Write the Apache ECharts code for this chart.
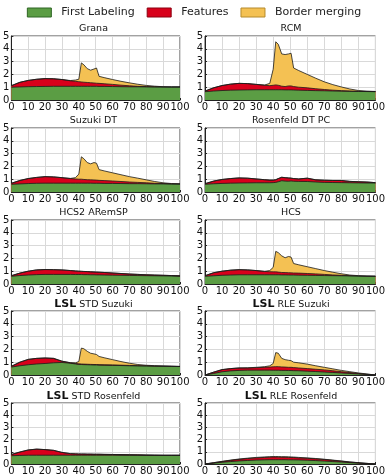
<!DOCTYPE html>
<html>
<head>
<meta charset="utf-8">
<script src="https://cdn.jsdelivr.net/npm/echarts@6/dist/echarts.min.js"></script>
<style>
html, body { margin: 0; padding: 0; background: #fff; }
#chart { width: 388px; height: 476px; }
</style>
</head>
<body>
<div id="chart"></div>
<script>
// x positions (percent) shared by every panel
const pct = [0, 5, 10, 15, 20, 25, 30, 35, 38, 40, 41.5, 43, 45, 47, 49, 50.5, 52, 55, 60, 65, 70, 75, 80, 85, 90, 95, 100];

// top edge of each layer (cumulative): labeling, + features, + border merging
const granaLabel = [1.0, 1.02, 1.04, 1.05, 1.06, 1.07, 1.07, 1.07, 1.07, 1.07, 1.07, 1.07, 1.07, 1.07, 1.07, 1.07, 1.06, 1.06, 1.05, 1.04, 1.03, 1.03, 1.02, 1.02, 1.02, 1.02, 1.02];
const granaFeat = [1.12, 1.38, 1.53, 1.62, 1.67, 1.66, 1.6, 1.5, 1.46, 1.43, 1.41, 1.39, 1.37, 1.35, 1.33, 1.31, 1.3, 1.27, 1.22, 1.16, 1.11, 1.07, 1.05, 1.03, 1.02, 1.02, 1.02];
const granaMerge = [1.12, 1.38, 1.53, 1.62, 1.67, 1.66, 1.6, 1.52, 1.56, 1.62, 2.9, 2.75, 2.45, 2.33, 2.42, 2.5, 1.85, 1.75, 1.6, 1.46, 1.34, 1.23, 1.14, 1.08, 1.04, 1.02, 1.02];

const rcmLabel = [0.65, 0.7, 0.74, 0.77, 0.78, 0.79, 0.8, 0.8, 0.8, 0.8, 0.8, 0.8, 0.8, 0.79, 0.79, 0.79, 0.78, 0.77, 0.75, 0.73, 0.72, 0.7, 0.69, 0.68, 0.67, 0.66, 0.65];
const rcmFeat = [0.7, 0.95, 1.13, 1.24, 1.3, 1.28, 1.22, 1.15, 1.12, 1.15, 1.18, 1.15, 1.08, 1.05, 1.1, 1.1, 1.05, 1.0, 0.95, 0.88, 0.82, 0.77, 0.73, 0.7, 0.68, 0.67, 0.66];
const rcmMerge = [0.7, 0.95, 1.13, 1.24, 1.3, 1.28, 1.22, 1.17, 1.3, 2.4, 4.55, 4.35, 3.6, 3.55, 3.6, 3.65, 2.5, 2.3, 2.0, 1.7, 1.42, 1.2, 1.02, 0.86, 0.74, 0.69, 0.67];

const suzukiLabel = [0.6, 0.63, 0.66, 0.68, 0.69, 0.69, 0.69, 0.69, 0.69, 0.69, 0.69, 0.69, 0.69, 0.69, 0.68, 0.68, 0.68, 0.67, 0.67, 0.66, 0.65, 0.65, 0.64, 0.63, 0.63, 0.62, 0.62];
const suzukiFeat = [0.68, 0.9, 1.05, 1.14, 1.2, 1.18, 1.12, 1.05, 1.02, 1.0, 1.0, 0.98, 0.96, 0.95, 0.94, 0.93, 0.91, 0.89, 0.86, 0.82, 0.78, 0.75, 0.72, 0.68, 0.66, 0.64, 0.63];
const suzukiMerge = [0.68, 0.9, 1.05, 1.14, 1.2, 1.18, 1.12, 1.06, 1.12, 1.4, 2.75, 2.6, 2.3, 2.2, 2.3, 2.25, 1.75, 1.65, 1.5, 1.35, 1.2, 1.08, 0.95, 0.82, 0.72, 0.66, 0.64];

const rosenPcLabel = [0.6, 0.64, 0.67, 0.69, 0.7, 0.71, 0.72, 0.72, 0.72, 0.73, 0.75, 0.8, 0.88, 0.85, 0.84, 0.86, 0.84, 0.83, 0.82, 0.78, 0.75, 0.74, 0.73, 0.72, 0.71, 0.7, 0.7];
const rosenPcFeat = [0.65, 0.85, 0.98, 1.05, 1.1, 1.08, 1.02, 0.96, 0.93, 0.93, 0.96, 1.05, 1.15, 1.12, 1.1, 1.08, 1.05, 1.02, 1.08, 0.95, 0.92, 0.9, 0.9, 0.83, 0.8, 0.78, 0.73];
const rosenPcMerge = [0.65, 0.85, 0.98, 1.05, 1.1, 1.08, 1.02, 0.96, 0.93, 0.93, 0.96, 1.05, 1.15, 1.12, 1.1, 1.08, 1.05, 1.02, 1.08, 0.95, 0.92, 0.9, 0.9, 0.83, 0.8, 0.78, 0.73];

const hcs2Label = [0.6, 0.66, 0.7, 0.73, 0.75, 0.75, 0.75, 0.75, 0.74, 0.74, 0.74, 0.73, 0.73, 0.72, 0.72, 0.71, 0.71, 0.7, 0.69, 0.68, 0.67, 0.66, 0.65, 0.64, 0.63, 0.62, 0.6];
const hcs2Feat = [0.65, 0.85, 1.0, 1.1, 1.13, 1.12, 1.1, 1.05, 1.02, 1.0, 0.99, 0.98, 0.97, 0.95, 0.94, 0.93, 0.92, 0.9, 0.86, 0.82, 0.78, 0.75, 0.72, 0.7, 0.68, 0.66, 0.64];
const hcs2Merge = [0.65, 0.85, 1.0, 1.1, 1.13, 1.12, 1.1, 1.05, 1.02, 1.0, 0.99, 0.98, 0.97, 0.95, 0.94, 0.93, 0.92, 0.9, 0.86, 0.82, 0.78, 0.75, 0.72, 0.7, 0.68, 0.66, 0.64];

const hcsLabel = [0.6, 0.64, 0.68, 0.7, 0.72, 0.72, 0.72, 0.72, 0.72, 0.72, 0.72, 0.72, 0.71, 0.71, 0.7, 0.7, 0.7, 0.69, 0.68, 0.67, 0.66, 0.65, 0.64, 0.63, 0.62, 0.61, 0.6];
const hcsFeat = [0.65, 0.88, 1.0, 1.08, 1.12, 1.1, 1.05, 0.98, 0.96, 0.95, 0.95, 0.93, 0.9, 0.89, 0.88, 0.87, 0.86, 0.85, 0.82, 0.79, 0.75, 0.71, 0.68, 0.65, 0.63, 0.62, 0.61];
const hcsMerge = [0.65, 0.88, 1.0, 1.08, 1.12, 1.1, 1.05, 0.99, 1.05, 1.3, 2.55, 2.45, 2.2, 2.05, 2.15, 2.1, 1.6, 1.5, 1.35, 1.2, 1.05, 0.92, 0.8, 0.7, 0.65, 0.62, 0.61];

const stdSuzukiLabel = [0.62, 0.72, 0.8, 0.86, 0.9, 0.95, 0.98, 0.92, 0.86, 0.83, 0.82, 0.81, 0.8, 0.79, 0.78, 0.78, 0.77, 0.76, 0.75, 0.74, 0.72, 0.71, 0.7, 0.69, 0.68, 0.67, 0.66];
const stdSuzukiFeat = [0.68, 1.0, 1.22, 1.3, 1.33, 1.3, 1.08, 0.95, 0.9, 0.87, 0.86, 0.85, 0.84, 0.83, 0.82, 0.82, 0.81, 0.8, 0.79, 0.77, 0.75, 0.73, 0.72, 0.7, 0.69, 0.68, 0.67];
const stdSuzukiMerge = [0.68, 1.0, 1.22, 1.3, 1.33, 1.3, 1.08, 0.96, 0.95, 1.05, 2.1, 2.05, 1.85, 1.7, 1.65, 1.6, 1.45, 1.35, 1.2, 1.05, 0.92, 0.82, 0.76, 0.73, 0.71, 0.69, 0.67];

const rleSuzukiLabel = [0, 0.12, 0.25, 0.32, 0.36, 0.38, 0.38, 0.38, 0.38, 0.37, 0.37, 0.37, 0.36, 0.36, 0.35, 0.35, 0.34, 0.33, 0.3, 0.27, 0.23, 0.2, 0.16, 0.12, 0.08, 0.04, 0];
const rleSuzukiFeat = [0, 0.22, 0.42, 0.5, 0.55, 0.55, 0.57, 0.6, 0.62, 0.64, 0.65, 0.65, 0.63, 0.62, 0.6, 0.6, 0.58, 0.55, 0.5, 0.45, 0.4, 0.33, 0.26, 0.19, 0.12, 0.06, 0];
const rleSuzukiMerge = [0, 0.22, 0.42, 0.5, 0.55, 0.56, 0.6, 0.65, 0.72, 0.9, 1.75, 1.7, 1.3, 1.2, 1.15, 1.12, 1.0, 0.95, 0.85, 0.72, 0.6, 0.48, 0.36, 0.26, 0.16, 0.08, 0];

const stdRosenLabel = [0.68, 0.7, 0.72, 0.72, 0.72, 0.72, 0.72, 0.72, 0.72, 0.72, 0.72, 0.72, 0.72, 0.72, 0.72, 0.72, 0.72, 0.72, 0.72, 0.71, 0.71, 0.71, 0.7, 0.7, 0.7, 0.7, 0.7];
const stdRosenFeat = [0.78, 0.98, 1.15, 1.22, 1.18, 1.12, 0.95, 0.85, 0.83, 0.82, 0.82, 0.82, 0.81, 0.81, 0.8, 0.8, 0.8, 0.79, 0.78, 0.77, 0.76, 0.75, 0.74, 0.73, 0.72, 0.72, 0.72];
const stdRosenMerge = [0.78, 0.98, 1.15, 1.22, 1.18, 1.12, 0.95, 0.85, 0.83, 0.82, 0.82, 0.82, 0.81, 0.81, 0.8, 0.8, 0.8, 0.79, 0.78, 0.77, 0.76, 0.75, 0.74, 0.73, 0.72, 0.72, 0.72];

const rleRosenLabel = [0, 0.07, 0.14, 0.2, 0.25, 0.29, 0.32, 0.34, 0.35, 0.35, 0.35, 0.35, 0.35, 0.35, 0.34, 0.34, 0.34, 0.33, 0.31, 0.28, 0.24, 0.2, 0.16, 0.11, 0.07, 0.03, 0];
const rleRosenFeat = [0, 0.1, 0.2, 0.3, 0.38, 0.45, 0.5, 0.54, 0.56, 0.57, 0.57, 0.56, 0.55, 0.55, 0.54, 0.53, 0.53, 0.5, 0.47, 0.42, 0.37, 0.3, 0.23, 0.16, 0.1, 0.05, 0];
const rleRosenMerge = [0, 0.11, 0.22, 0.32, 0.41, 0.48, 0.54, 0.58, 0.6, 0.61, 0.61, 0.61, 0.6, 0.6, 0.59, 0.58, 0.57, 0.54, 0.5, 0.45, 0.39, 0.32, 0.25, 0.17, 0.11, 0.05, 0];

const titles = [
    "Grana", "RCM",
    "Suzuki DT", "Rosenfeld DT PC",
    "HCS2 ARemSP", "HCS",
    "{big|LSL} STD Suzuki", "{big|LSL} RLE Suzuki",
    "{big|LSL} STD Rosenfeld", "{big|LSL} RLE Rosenfeld",
];
const labelData = [granaLabel, rcmLabel, suzukiLabel, rosenPcLabel, hcs2Label, hcsLabel, stdSuzukiLabel, rleSuzukiLabel, stdRosenLabel, rleRosenLabel];
const featData = [granaFeat, rcmFeat, suzukiFeat, rosenPcFeat, hcs2Feat, hcsFeat, stdSuzukiFeat, rleSuzukiFeat, stdRosenFeat, rleRosenFeat];
const mergeData = [granaMerge, rcmMerge, suzukiMerge, rosenPcMerge, hcs2Merge, hcsMerge, stdSuzukiMerge, rleSuzukiMerge, stdRosenMerge, rleRosenMerge];

const names = ["First Labeling", "Features", "Border merging"];
const fills = ["#5b9d44", "#d8001b", "#f4c153"];
const borders = ["#2f6624", "#8a0010", "#b58a2c"];

// layout of the 2 x 5 panels
const colLeft = [7, 205];
const colWidth = [173, 172];
const rowTop = [36, 128, 220, 311, 403];
const plotH = 64;
const font = "DejaVu Sans";

const grid = [], xAxis = [], yAxis = [], series = [], title = [];

titles.forEach((t, i) => {
    const col = i % 2;
    const row = Math.floor(i / 2);
    grid.push({
        left: colLeft[col], top: rowTop[row], width: colWidth[col], height: plotH,
        show: true, borderColor: "#444", borderWidth: 1, backgroundColor: "transparent",
    });
    title.push({
        text: t,
        left: colLeft[col] + colWidth[col] / 2,
        top: rowTop[row] - 12,
        textAlign: "center",
        padding: 0,
        textStyle: {
            fontFamily: font, fontSize: 9.5, fontWeight: "normal", color: "#111",
            rich: { big: { fontFamily: font, fontSize: 11, fontWeight: "bold", color: "#111" } },
        },
    });
    xAxis.push({
        type: "value", gridIndex: i, min: 0, max: 100, interval: 10,
        axisLine: { show: true, onZero: false, lineStyle: { color: "#222", width: 1 } },
        axisTick: { show: true, inside: true, length: 2, lineStyle: { color: "#222" } },
        axisLabel: { fontFamily: font, fontSize: 10, color: "#111", margin: 2 },
        splitLine: { show: true, lineStyle: { color: "#d9d9d9", width: 1 } },
    });
    yAxis.push({
        type: "value", gridIndex: i, min: 0, max: 5, interval: 1,
        axisLine: { show: true, lineStyle: { color: "#222", width: 1 } },
        axisTick: { show: true, inside: true, length: 2, lineStyle: { color: "#222" } },
        axisLabel: { fontFamily: font, fontSize: 10, color: "#111", margin: 2 },
        splitLine: { show: true, lineStyle: { color: "#d9d9d9", width: 1 } },
    });
    // back to front: border merging, features, first labeling
    [mergeData[i], featData[i], labelData[i]].forEach((vals, k) => {
        const s = 2 - k;
        series.push({
            name: names[s],
            type: "line",
            xAxisIndex: i,
            yAxisIndex: i,
            showSymbol: false,
            symbol: "none",
            silent: true,
            animation: false,
            color: fills[s],
            lineStyle: { color: "#1a1a1a", width: 0.8 },
            areaStyle: { color: fills[s], opacity: 1 },
            data: pct.map((x, j) => [x, vals[j]]),
        });
    });
});

const chart = echarts.init(document.getElementById("chart"), null, { renderer: "canvas" });
chart.setOption({
    animation: false,
    title,
    legend: {
        top: 2,
        left: "center",
        icon: "rect",
        itemWidth: 24,
        itemHeight: 9,
        itemGap: 12,
        selectedMode: false,
        textStyle: { fontFamily: font, fontSize: 11, color: "#222", padding: [0, 0, 0, 5] },
        data: names.map((n, k) => ({
            name: n,
            itemStyle: { color: fills[k], borderColor: borders[k], borderWidth: 1 },
        })),
    },
    grid,
    xAxis,
    yAxis,
    series,
});
</script>
</body>
</html>
